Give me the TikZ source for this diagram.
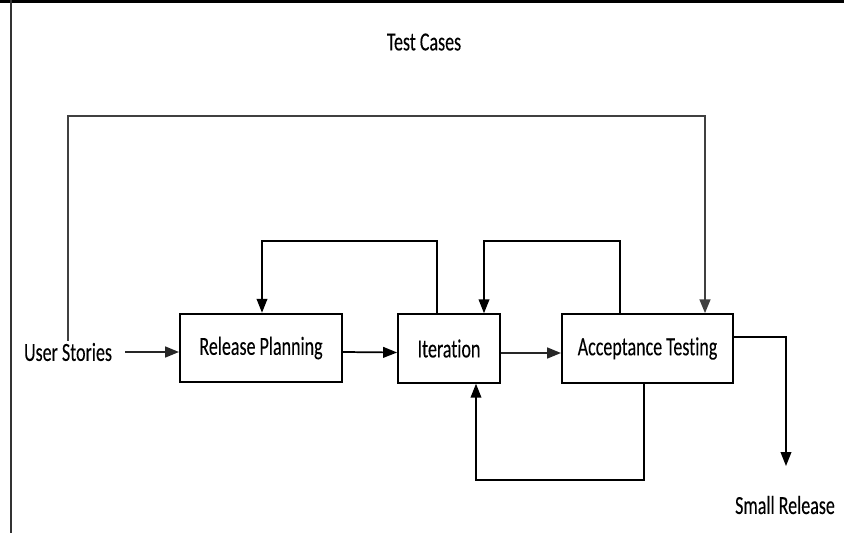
\documentclass[tikz,border=0pt]{standalone}
\usepackage{fontspec}
\setmainfont{Carlito}[Ligatures={NoCommon,NoContextual}, FakeBold=0.15]
\usetikzlibrary{arrows.meta,calc}

% condensed look of the labels: text stretched vertically
\newcommand{\tallstr}[1]{\scalebox{1}[1.45]{#1}}

\tikzset{
  lbl/.style={inner sep=0pt, font=\fontsize{13.5pt}{16pt}\selectfont},
  stagebox/.style={draw, line width=1.3pt, inner sep=0pt, minimum height=51.5pt,
                   font=\fontsize{13.5pt}{16pt}\selectfont},
  flow/.style={line width=1.3pt, -{Triangle[length=10.5pt,width=8pt]}},
  flowheavy/.style={flow, line width=1.8pt, draw=black!85},
}

\begin{document}
\begin{tikzpicture}[x=0.75pt, y=-0.75pt]
  \useasboundingbox (0,0) rectangle (844,533);

  % frame lines
  \draw[line width=2pt] (0,1.5) -- (844,1.5);
  \draw[line width=1.2pt, black!80] (11,0) -- (11,533);

  % labels and stages
  \node[lbl] (tc) at (424,42) {\tallstr{Test Cases}};
  \node[lbl] (us) at (68,352) {\tallstr{User Stories}};
  \node[stagebox, minimum width=121.5pt] (rp) at (261,348) {\tallstr{Release Planning}};
  \node[stagebox, minimum width=76.5pt] (it) at (449,348.5) {\tallstr{Iteration}};
  \node[stagebox, minimum width=128.25pt] (at) at (647.5,348.5) {\tallstr{Acceptance Testing}};
  \node[lbl] (sr) at (785,505) {\tallstr{Small Release}};

  \coordinate (toprow) at (0,116);
  \coordinate (srtip) at (786,466);

  % main flow
  \draw[flowheavy] ($(us.east)+(13,0)$) -- ($(rp.west)+(0,4)$);
  \draw[flow] ($(rp.east)+(0,4)$) -- ($(it.west)+(0,4)$);
  \draw[flowheavy] ($(it.east)+(0,4.5)$) -- ($(at.west)+(0,4.5)$);

  % test cases feed acceptance testing
  \draw[flow, line width=1.9pt, draw=black!75] ($(us.north)+(0,-2)$) -- (us.north |- toprow)
       -| ($(at.north)+(57.5,0)$);

  % feedback loops
  \draw[flow] ($(it.north)+(-12,0)$) -- ++(0,-72) -| ($(rp.north)+(1,0)$);
  \draw[flow] ($(at.north)+(-27.5,0)$) -- ++(0,-72) -| ($(it.north)+(35,0)$);
  \draw[flow] ($(at.south)+(-3.5,0)$) -- ++(0,96) -| ($(it.south)+(27,0)$);

  % release output
  \draw[flow] ($(at.east)+(0,-11.5)$) -| (srtip);
\end{tikzpicture}
\end{document}
